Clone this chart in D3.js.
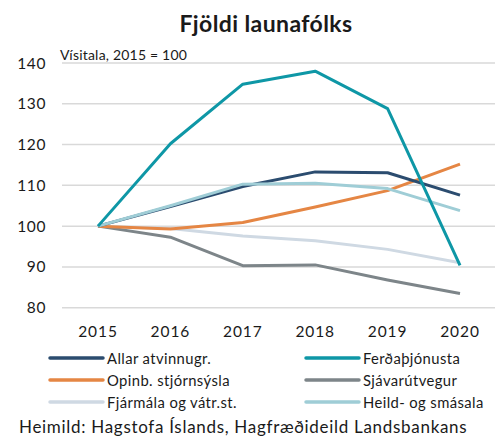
<!DOCTYPE html>
<html>
<head>
<meta charset="utf-8">
<script src="https://cdn.jsdelivr.net/npm/d3@7"></script>
<style>
  body { margin: 0; background: #fff; }
  text { font-family: Lato, "Open Sans", sans-serif; fill: #1a1a1a; }
</style>
</head>
<body>
<script>
// data
var years = ["2015", "2016", "2017", "2018", "2019", "2020"];
var yTicks = [80, 90, 100, 110, 120, 130, 140];
var seriesNames = ["Allar atvinnugr.", "Ferðaþjónusta", "Opinb. stjórnsýsla", "Sjávarútvegur", "Fjármála og vátr.st.", "Heild- og smásala"];
var allar = [100, 104.8, 109.7, 113.3, 113.1, 107.6];
var ferda = [100, 120.2, 134.8, 138.0, 128.8, 90.4];
var opinb = [100, 99.3, 100.9, 104.7, 108.7, 115.2];
var sjavar = [100, 97.3, 90.3, 90.5, 86.8, 83.5];
var fjarmala = [100, 99.4, 97.6, 96.4, 94.3, 91.0];
var heild = [100, 105.0, 110.3, 110.5, 109.2, 103.8];
var colors = ["#2b4c6f", "#0e97a6", "#e58644", "#7d8589", "#cfd9e3", "#9fcdd6"];

var w = 501, h = 439;
var svg = d3.select("body").append("svg")
    .attr("width", w)
    .attr("height", h);

var x = d3.scalePoint()
    .domain(years)
    .range([98, 460]);

var y = d3.scaleLinear()
    .domain([80, 140])
    .range([307.7, 63]);

// gridlines
svg.selectAll("line.grid")
    .data(yTicks).enter()
    .append("line")
    .attr("class", "grid")
    .attr("x1", 62).attr("x2", 495)
    .attr("y1", function (d) { return y(d); })
    .attr("y2", function (d) { return y(d); })
    .attr("stroke", "#d9d9d9")
    .attr("stroke-width", 1.5);

// y labels
svg.selectAll("text.ylab")
    .data(yTicks).enter()
    .append("text")
    .attr("class", "ylab")
    .attr("x", 46)
    .attr("y", function (d) { return y(d) + 5.5; })
    .attr("text-anchor", "end")
    .style("font-size", "15.5px")
    .style("letter-spacing", "0.6px")
    .text(function (d) { return d; });

// x labels
svg.selectAll("text.xlab")
    .data(years).enter()
    .append("text")
    .attr("class", "xlab")
    .attr("x", function (d) { return x(d); })
    .attr("y", 337)
    .attr("text-anchor", "middle")
    .style("font-size", "15.5px")
    .style("letter-spacing", "0.9px")
    .text(function (d) { return d; });

// title and subtitles
svg.append("text")
    .attr("x", 266).attr("y", 32)
    .attr("text-anchor", "middle")
    .style("font-size", "23px")
    .style("font-weight", "bold")
    .style("letter-spacing", "0.4px")
    .text("Fjöldi launafólks");

svg.append("text")
    .attr("x", 60).attr("y", 60)
    .style("font-size", "14px")
    .style("letter-spacing", "0.2px")
    .text("Vísitala, 2015 = 100");

svg.append("text")
    .attr("x", 19).attr("y", 433)
    .style("font-size", "17px")
    .style("letter-spacing", "0.7px")
    .text("Heimild: Hagstofa Íslands, Hagfræðideild Landsbankans");

// lines, drawn so the light ones end up like the picture
var allSeries = [allar, ferda, opinb, sjavar, fjarmala, heild];
var drawOrder = [4, 3, 2, 0, 5, 1];

var line = d3.line()
    .x(function (d, i) { return x(years[i]); })
    .y(function (d) { return y(d); });

drawOrder.forEach(function (k) {
    svg.append("path")
        .datum(allSeries[k])
        .attr("d", line)
        .attr("fill", "none")
        .attr("stroke", colors[k])
        .attr("stroke-width", 3)
        .attr("stroke-linejoin", "round");
});

// legend
var legend = svg.selectAll("g.leg")
    .data(seriesNames).enter()
    .append("g")
    .attr("class", "leg")
    .attr("transform", function (d, i) {
        var col = i % 2, row = Math.floor(i / 2);
        return "translate(" + (col ? 306 : 50) + "," + (358 + row * 22) + ")";
    });

legend.append("line")
    .attr("x1", 0).attr("x2", 53)
    .attr("stroke", function (d, i) { return colors[i]; })
    .attr("stroke-width", 3.5)
    .attr("stroke-linecap", "round");

legend.append("text")
    .attr("x", 57).attr("y", 5.5)
    .style("font-size", "14.8px")
    .style("letter-spacing", "0.4px")
    .text(function (d) { return d; });
</script>
</body>
</html>
